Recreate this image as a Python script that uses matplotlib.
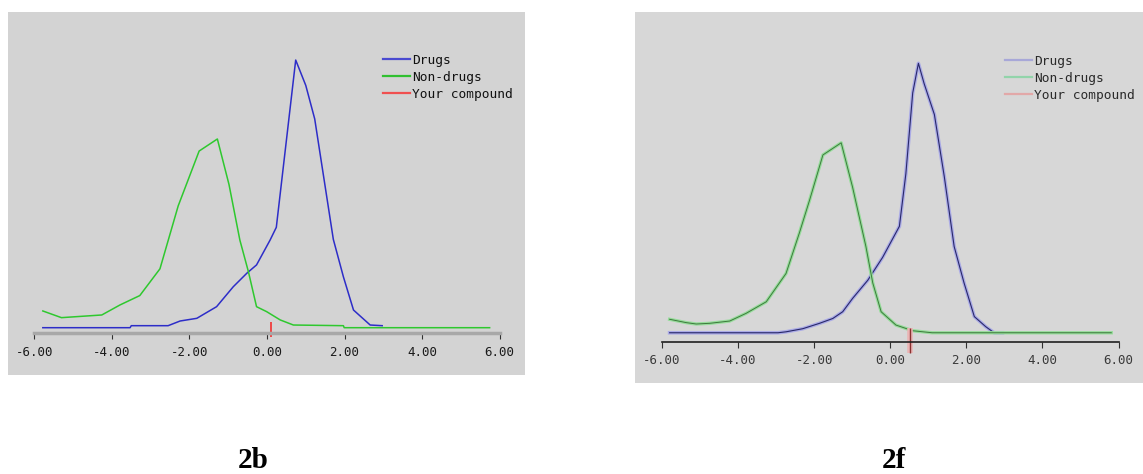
import matplotlib
matplotlib.use("Agg")
import matplotlib.pyplot as plt
from matplotlib.lines import Line2D

W, H = 1143, 474

# ---- data (x = score, y = % of compounds) ----
ticks = [-6, -4, -2, 0, 2, 4, 6]
labels = ["Drugs", "Non-drugs", "Your compound"]

drugs_b_x = [-5.78, -3.53, -3.50, -2.55, -2.24, -1.81, -1.30, -0.87, -0.52, -0.27,
             0.08, 0.24, 0.74, 1.00, 1.23, 1.71, 1.97, 2.23, 2.66, 2.97]
drugs_b_y = [0.0, 0.0, 0.15, 0.15, 0.5, 0.7, 1.57, 3.06, 4.07, 4.69,
             6.55, 7.5, 20.0, 18.1, 15.6, 6.6, 3.8, 1.32, 0.2, 0.15]
nondrugs_b_x = [-5.78, -5.30, -4.26, -3.79, -3.28, -2.76, -2.29, -1.75, -1.28, -0.98,
                -0.70, -0.48, -0.27, -0.01, 0.34, 0.68, 1.97, 1.99, 5.74]
nondrugs_b_y = [1.25, 0.75, 0.95, 1.7, 2.4, 4.4, 9.1, 13.2, 14.1, 10.7,
                6.55, 4.19, 1.57, 1.2, 0.58, 0.2, 0.15, 0.0, 0.0]
compound_b = 0.10

drugs_f_x = [-5.80, -2.95, -2.74, -2.30, -1.86, -1.51, -1.25, -0.99, -0.59, -0.20,
             0.24, 0.41, 0.59, 0.74, 0.89, 1.16, 1.42, 1.68, 1.94, 2.21, 2.51, 2.73, 2.95]
drugs_f_y = [0.0, 0.0, 0.07, 0.3, 0.7, 1.06, 1.56, 2.55, 3.9, 5.6,
             7.9, 11.8, 17.8, 20.0, 18.5, 16.2, 11.6, 6.4, 3.7, 1.2, 0.45, 0.0, 0.0]
nondrugs_f_x = [-5.80, -5.36, -5.10, -4.75, -4.22, -3.79, -3.26, -2.74, -2.39, -2.12,
                -1.77, -1.29, -0.99, -0.64, -0.46, -0.24, 0.15, 0.59, 1.10, 5.81]
nondrugs_f_y = [1.0, 0.75, 0.65, 0.7, 0.87, 1.44, 2.3, 4.4, 7.4, 9.85,
                13.2, 14.1, 10.8, 6.4, 3.7, 1.56, 0.57, 0.15, 0.0, 0.0]
compound_f = 0.53


def px_rect(x0, y0, x1, y1):
    return [x0 / W, 1 - y1 / H, (x1 - x0) / W, (y1 - y0) / H]


def setup_axis(ax, axis_y, spine_color, spine_lw, label_color, pad):
    for s in ["top", "left", "right"]:
        ax.spines[s].set_visible(False)
    ax.spines["bottom"].set_position(("data", axis_y))
    ax.spines["bottom"].set_bounds(-6, 6)
    ax.spines["bottom"].set_color(spine_color)
    ax.spines["bottom"].set_linewidth(spine_lw)
    ax.set_yticks([])
    ax.set_xticks(ticks)
    ax.set_xticklabels([f"{t:.2f}" for t in ticks], family="DejaVu Sans Mono",
                       fontsize=9, color=label_color)
    ax.tick_params(axis="x", direction="out", length=4.5, width=0.8,
                   color="#303030", pad=pad)


def add_legend(ax, colors, x_px, y_px, text_color):
    handles = [Line2D([], [], color=c, lw=1.6) for c in colors]
    ax.legend(handles, labels, loc="upper left", bbox_to_anchor=(x_px / W, 1 - y_px / H),
              bbox_transform=fig.transFigure, frameon=False, borderpad=0, borderaxespad=0,
              handlelength=2.12, handletextpad=0.15, labelspacing=0.3,
              prop={"family": "DejaVu Sans Mono", "size": 9.3}, labelcolor=text_color)


fig = plt.figure(figsize=(W / 100, H / 100), dpi=100)

# ---- panel 2b ----
ax = fig.add_axes(px_rect(8, 12, 525, 375), facecolor="#d3d3d3")
ax.set_xlim(-6.678, 6.652)
ax.set_ylim(-3.535, 23.59)
ax.plot(drugs_b_x, drugs_b_y, color="#2d2dc8", lw=1.1)
ax.plot(nondrugs_b_x, nondrugs_b_y, color="#2ec82e", lw=1.1)
ax.vlines(compound_b, -0.7, 0.43, color="#f03c3c", lw=1.3)
setup_axis(ax, -0.40, "#a8a8a8", 2.5, "#1a1a1a", 5)
add_legend(ax, ["#4a4ad0", "#30c030", "#f05050"], 383, 54, "#111111")

# ---- panel 2f (lower quality copy) ----
ax = fig.add_axes(px_rect(635, 12, 1143, 383), facecolor="#d7d7d7")
ax.set_xlim(-6.71, 6.644)
ax.set_ylim(-3.73, 23.81)
ax.plot(drugs_f_x, drugs_f_y, color="#aaaae6", lw=2.6)
ax.plot(drugs_f_x, drugs_f_y, color="#28286a", lw=0.8)
ax.plot(nondrugs_f_x, nondrugs_f_y, color="#96dc9a", lw=2.4)
ax.plot(nondrugs_f_x, nondrugs_f_y, color="#3c7a3c", lw=0.7)
ax.vlines(compound_f, -1.5, 0.35, color="#eab4b4", lw=4)
ax.vlines(compound_f, -1.5, 0.35, color="#8a3030", lw=1.0)
setup_axis(ax, -0.67, "#202020", 1.2, "#3a3a3a", 4)
add_legend(ax, ["#a8a8d8", "#92d4aa", "#e2a8a8"], 1005, 55, "#2a2a2a")

# ---- figure captions ----
for x, txt in [(253, "2b"), (894, "2f")]:
    fig.text(x / W, 1 - 468 / H, txt, family="Liberation Serif", weight="bold",
             fontsize=21, ha="center", va="baseline")

fig.savefig("out.png", dpi=100)
